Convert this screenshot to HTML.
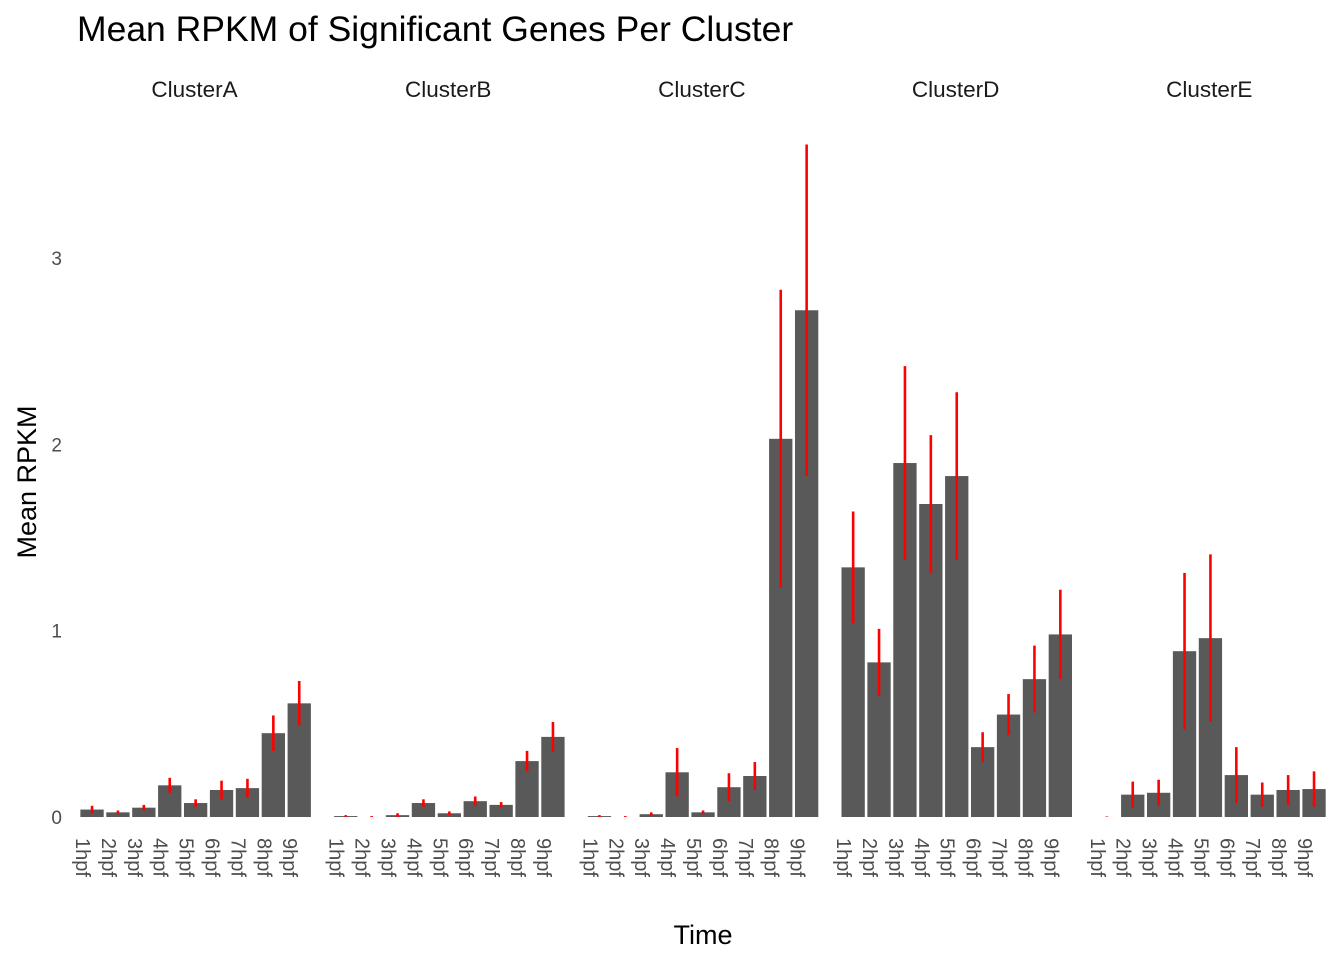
<!DOCTYPE html>
<html><head><meta charset="utf-8"><style>
body{margin:0;background:#fff;}
svg{font-family:"Liberation Sans",sans-serif;}
</style></head><body>
<svg id="chart" width="1344" height="960" xmlns="http://www.w3.org/2000/svg">
<text x="77" y="41" font-size="35.5" fill="#000">Mean RPKM of Significant Genes Per Cluster</text>
<text x="703" y="944" font-size="27" text-anchor="middle" fill="#000">Time</text>
<text transform="translate(36,482) rotate(-90)" font-size="27" text-anchor="middle" fill="#000">Mean RPKM</text>
<g id="plot"></g>
</svg>
<script>
const clusters=["ClusterA","ClusterB","ClusterC","ClusterD","ClusterE"];
const times=["1hpf","2hpf","3hpf","4hpf","5hpf","6hpf","7hpf","8hpf","9hpf"];
const meanA=[0.04,0.025,0.05,0.17,0.075,0.145,0.155,0.45,0.61];
const errA=[0.02,0.01,0.015,0.04,0.02,0.05,0.05,0.095,0.12];
const meanB=[0.005,0.0,0.01,0.075,0.02,0.085,0.065,0.30,0.43];
const errB=[0.005,0.005,0.01,0.02,0.01,0.025,0.015,0.055,0.08];
const meanC=[0.005,0.0,0.015,0.24,0.025,0.16,0.22,2.03,2.72];
const errC=[0.005,0.005,0.01,0.13,0.01,0.075,0.075,0.80,0.89];
const meanD=[1.34,0.83,1.90,1.68,1.83,0.375,0.55,0.74,0.98];
const errD=[0.30,0.18,0.52,0.37,0.45,0.08,0.11,0.18,0.24];
const meanE=[0.0,0.12,0.13,0.89,0.96,0.225,0.12,0.145,0.15];
const errE=[0.003,0.07,0.07,0.42,0.45,0.15,0.065,0.08,0.095];
const yTicks=[0,1,2,3];
const means=[meanA,meanB,meanC,meanD,meanE];
const errs=[errA,errB,errC,errD,errE];
const NS="http://www.w3.org/2000/svg";
const g=document.getElementById('plot');
const y0=817, pxPerUnit=186.3, step=25.9, panelStart=76.5, panelGap=253.7;
const yS=v=>y0-v*pxPerUnit;
const xS=(p,i)=>panelStart+p*panelGap+(i+0.6)*step;
function mk(t,a){const e=document.createElementNS(NS,t);for(const k in a)e.setAttribute(k,a[k]);g.appendChild(e);return e;}
yTicks.forEach(t=>{
 const e=mk('text',{x:62,y:yS(t)+7,'font-size':19,'text-anchor':'end',fill:'#4d4d4d'});
 
 
 e.textContent=t;
});
clusters.forEach((c,p)=>{
 const s=mk('text',{x:panelStart+p*panelGap+118,y:97,'font-size':22.5,'text-anchor':'middle',fill:'#1a1a1a'});
 
 
 s.textContent=c;
 times.forEach((t,i)=>{
  const cx=xS(p,i), v=means[p][i], er=errs[p][i], bw=step*0.9;
  const r=mk('rect',{x:cx-bw/2,y:yS(v),width:bw,height:Math.max(0,y0-yS(v)),fill:'#595959'});
  
  
  const l=mk('line',{x1:cx,x2:cx,y1:yS(v+er),y2:yS(Math.max(0,v-er)),stroke:'#ff0000','stroke-width':2.6});
  
  
  const tl=mk('text',{transform:`translate(${cx-16},838) rotate(90)`,'font-size':20,fill:'#4d4d4d'});
  
  
  tl.textContent=t;
 });
});
</script>
</body></html>
